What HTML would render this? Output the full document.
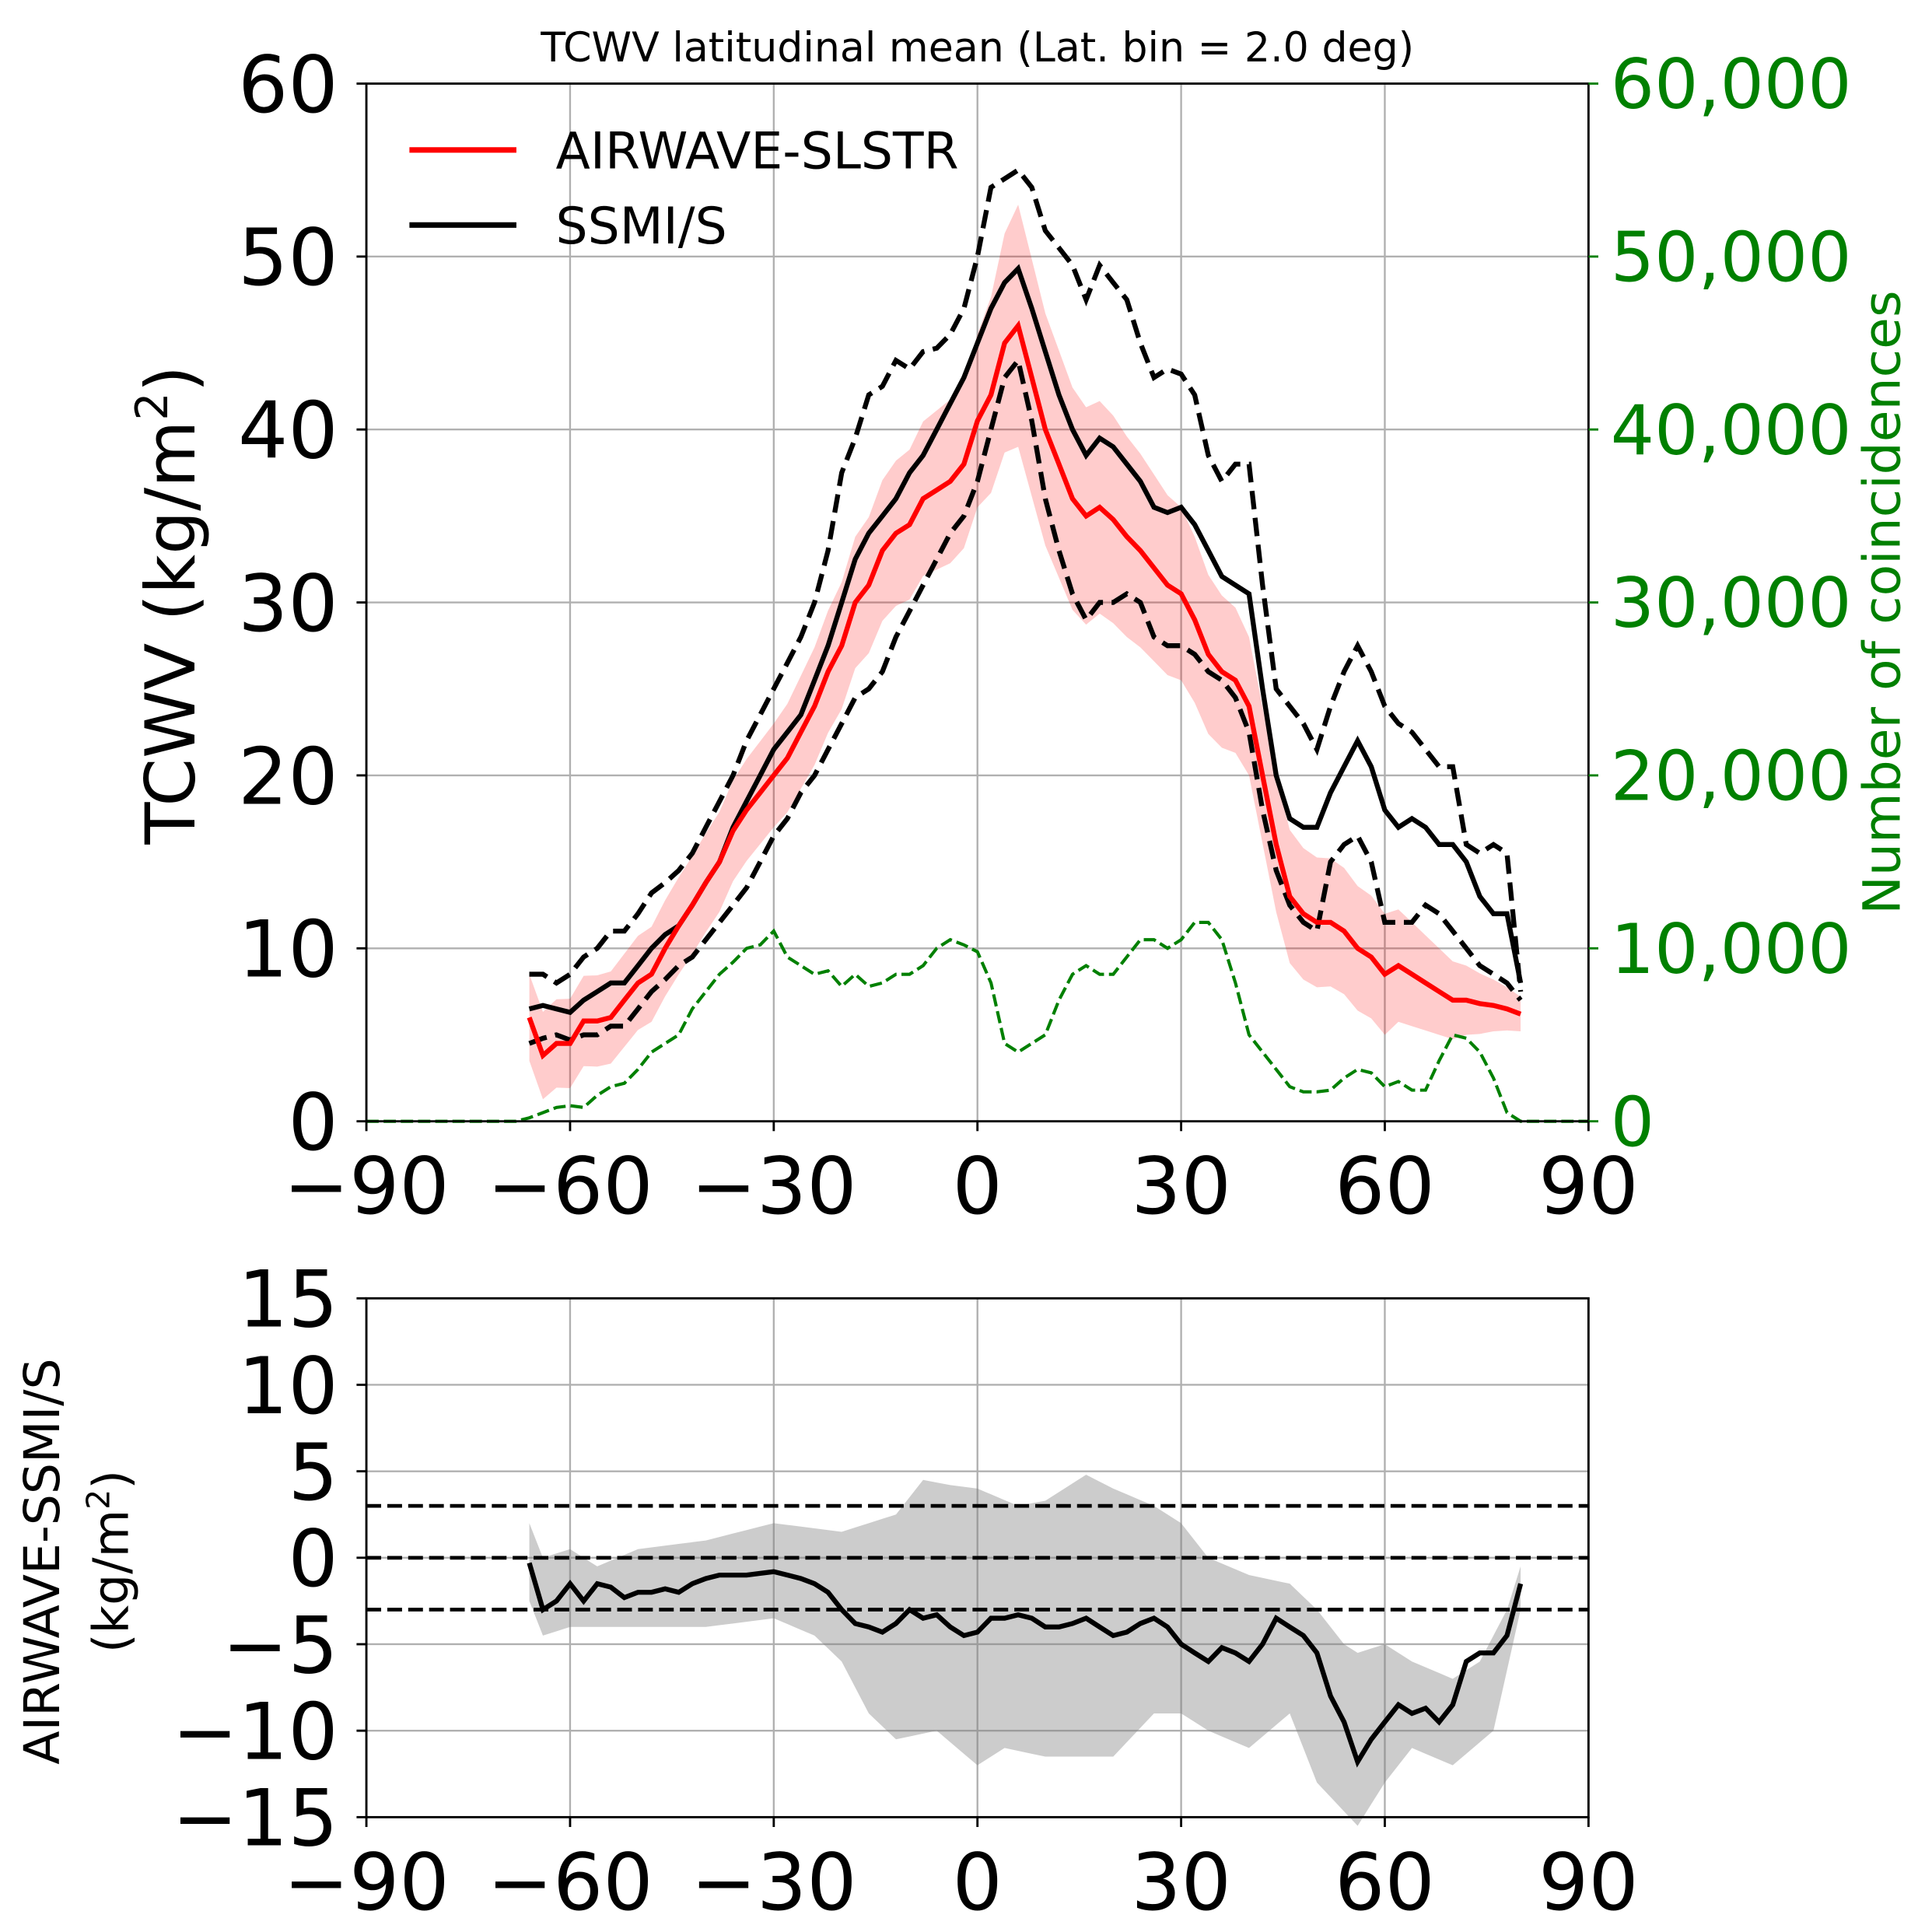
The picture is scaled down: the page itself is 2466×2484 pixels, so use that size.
<!DOCTYPE html>
<html><head><meta charset="utf-8"><style>
html,body{margin:0;padding:0;background:#fff}
svg{display:block}
text{font-family:"DejaVu Sans","Liberation Sans",sans-serif}
</style></head><body>
<svg id="s" width="2466" height="2484" viewBox="0 0 1560 1571.4" preserveAspectRatio="none" xmlns="http://www.w3.org/2000/svg">
<rect width="1560" height="1572" fill="#fff"/>
<g id="g"></g>
<text x="795" y="50" font-size="33" text-anchor="middle">TCWV latitudinal mean (Lat. bin = 2.0 deg)</text>
<text transform="translate(158,492) rotate(-90)" font-size="56" text-anchor="middle">TCWV (kg/m<tspan font-size="36" dy="-22">2</tspan><tspan dy="22">)</tspan></text>
<text transform="translate(1545,490) rotate(-90)" font-size="42" fill="#008000" text-anchor="middle">Number of coincidences</text>
<text transform="translate(48,1270) rotate(-90)" font-size="40" text-anchor="middle">AIRWAVE-SSMI/S</text>
<text transform="translate(104,1270) rotate(-90)" font-size="40" text-anchor="middle">(kg/m<tspan font-size="26" dy="-15">2</tspan><tspan dy="15">)</tspan></text>
</svg>
<script>
const NS="http://www.w3.org/2000/svg",G=document.getElementById('g');
function el(t,a,txt){const e=document.createElementNS(NS,t);for(const k in a)e.setAttribute(k,a[k]);if(txt!==undefined)e.textContent=txt;G.appendChild(e);return e;}
const X=l=>298+(l+90)*994/180;
const Y1=v=>912-v*844/60;
const Y2=v=>1267-v*211/15;
const lats=[];for(let l=-66;l<=80;l+=2)lats.push(l);
function interp(kp,l){for(let i=0;i<kp.length-1;i++){if(l>=kp[i][0]&&l<=kp[i+1][0]){const t=(l-kp[i][0])/(kp[i+1][0]-kp[i][0]);return kp[i][1]+t*(kp[i+1][1]-kp[i][1]);}}return kp[kp.length-1][1];}
const red=[6,3.8,4.5,4.5,5.8,5.8,6,7,8,8.5,10,11.3,12.5,13.8,15,16.8,18,19,20,21,22.5,24,26,27.5,30,31,33,34,34.5,36,36.5,37,38,40.5,42,45,46,43,40,38,36,35,35.5,34.8,33.8,33,32,31,30.5,29,27,26,25.5,24,20,16,13,12,11.5,11.5,11,10,9.5,8.5,9,8.5,8,7.5,7,7,6.8,6.7,6.5,6.2];
const blk=[6.5,6.7,6.5,6.3,7,7.5,8,8,9,10,10.8,11.3,12.5,13.8,15,17,18.5,20,21.5,22.5,23.5,25.5,27.5,30,32.5,34,35,36,37.5,38.5,40,41.5,43,45,47,48.5,49.3,47,44.5,42,40,38.5,39.5,39,38,37,35.5,35.2,35.5,34.5,33,31.5,31,30.5,25,20,17.5,17,17,19,20.5,22,20.5,18,17,17.5,17,16,16,15,13,12,12,8];
const up=[8.5,8.5,8,8.5,9.5,10,11,11,12,13.2,13.8,14.5,15.5,17,18.5,20,22,23.5,25,26.5,28,30,33,37.5,39.5,42,42.5,44,43.5,44.5,44.7,45.5,47,50,54,54.5,55,54,51.5,50.5,49.5,47.5,49.5,48.5,47.5,45,43,43.5,43.2,42,38.5,37,38,38,31,25,24,23,21.5,24,26,27.5,26,24,23,22.5,21.5,20.5,20.5,16,15.5,16,15.5,7.5];
const lo=[4.5,4.8,5,4.7,5,5,5.5,5.5,6.5,7.5,8.2,9,9.5,10.5,11.5,12.5,13.5,15,16.5,17.5,19,20,21.5,23,24.5,25,26,28,29.5,31,32.5,34,35,37,40,43,44,40.5,36,33,30.5,29,30,30,30.5,30,28,27.5,27.5,27,26,25.5,24.5,22.5,18,14.5,12.5,11.5,11,15,16,16.5,15,11.5,11.5,11.5,12.5,12,11,10,9,8.5,8,7];
const hwk=[[-66,2.5],[-30,3],[0,5],[6,7],[20,6],[40,4],[60,3.5],[80,1]];
const gv=[0.2,0.5,0.8,0.9,0.8,1.5,2,2.2,3,4,4.5,5,6.5,7.5,8.5,9.2,10,10.2,11,9.5,9,8.5,8.7,7.8,8.5,7.8,8,8.5,8.5,9,10,10.5,10.2,9.8,8,4.5,4,4.5,5,7,8.5,9,8.5,8.5,9.5,10.5,10.5,10,10.5,11.5,11.5,10.5,8,5,4,3,2,1.7,1.7,1.8,2.5,3,2.8,2,2.3,1.8,1.8,3.5,5,4.8,4,2.5,0.5,0];
const dm=[-0.3,-3,-2.5,-1.5,-2.5,-1.5,-1.7,-2.3,-2,-2,-1.8,-2,-1.5,-1.2,-1,-1,-1,-0.9,-0.8,-1,-1.2,-1.5,-2,-3,-3.8,-4,-4.3,-3.8,-3,-3.5,-3.3,-4,-4.5,-4.3,-3.5,-3.5,-3.3,-3.5,-4,-4,-3.8,-3.5,-4,-4.5,-4.3,-3.8,-3.5,-4,-5,-5.5,-6,-5.2,-5.5,-6,-5,-3.5,-4,-4.5,-5.5,-8,-9.5,-11.8,-10.5,-9.5,-8.5,-9,-8.7,-9.5,-8.5,-6,-5.5,-5.5,-4.5,-1.5];
const gu=[[-66,2],[-64,0],[-60,0.5],[-56,-0.5],[-50,0.5],[-40,1],[-30,2],[-20,1.5],[-12,2.5],[-8,4.5],[-4,4.2],[0,4],[6,3],[10,3.3],[16,4.8],[20,4],[26,3],[30,2],[34,0],[40,-1],[46,-1.5],[50,-3],[54,-5],[56,-5.5],[60,-5],[64,-6],[70,-7],[74,-6],[78,-3],[80,-0.5]];
const gl=[[-66,-2.5],[-64,-4.5],[-60,-4],[-50,-4],[-40,-4],[-30,-3.5],[-24,-4.5],[-20,-6],[-16,-9],[-12,-10.5],[-6,-10],[0,-12],[4,-11],[10,-11.5],[20,-11.5],[26,-9],[30,-9],[34,-10],[40,-11],[46,-9],[50,-13],[56,-15.5],[60,-13],[64,-11],[70,-12],[76,-10],[80,-3]];
const pts=(arr,Y)=>lats.map((l,i)=>X(l).toFixed(1)+','+Y(arr[i]).toFixed(1)).join(' ');
const grid='#b0b0b0';
function axes(y0,y1,ticks,Y){
  for(let l=-90;l<=90;l+=30){el('line',{x1:X(l),x2:X(l),y1:y0,y2:y1,stroke:grid,'stroke-width':1.5});}
  ticks.forEach(v=>el('line',{x1:298,x2:1292,y1:Y(v),y2:Y(v),stroke:grid,'stroke-width':1.5}));
}
axes(68,912,[0,10,20,30,40,50,60],Y1);
const hw=lats.map(l=>interp(hwk,l));
el('polygon',{points:lats.map((l,i)=>X(l)+','+Y1(red[i]+hw[i])).join(' ')+' '+lats.slice().reverse().map((l,j)=>{const i=lats.length-1-j;return X(l)+','+Y1(red[i]-hw[i]);}).join(' '),fill:'#ff0000','fill-opacity':0.2});
const gl2=[];for(let l=-90;l<=90;l+=2){let v=0;if(l>=-66&&l<=80)v=gv[(l+66)/2];gl2.push(X(l)+','+Y1(v));}
el('polyline',{points:gl2.join(' '),fill:'none',stroke:'#008000','stroke-width':2.6,'stroke-dasharray':'10,4'});
el('polyline',{points:pts(up,Y1),fill:'none',stroke:'#000','stroke-width':4,'stroke-dasharray':'15,7'});
el('polyline',{points:pts(lo,Y1),fill:'none',stroke:'#000','stroke-width':4,'stroke-dasharray':'15,7'});
el('polyline',{points:pts(blk,Y1),fill:'none',stroke:'#000','stroke-width':4});
el('polyline',{points:pts(red,Y1),fill:'none',stroke:'#ff0000','stroke-width':4});
el('rect',{x:298,y:68,width:994,height:844,fill:'none',stroke:'#000','stroke-width':1.8});
el('line',{x1:333,x2:420,y1:122,y2:122,stroke:'#f00','stroke-width':4.5});
el('text',{x:452,y:137,'font-size':41},'AIRWAVE-SLSTR');
el('line',{x1:333,x2:420,y1:183,y2:183,stroke:'#000','stroke-width':4.5});
el('text',{x:452,y:198,'font-size':41},'SSMI/S');
[0,10,20,30,40,50,60].forEach(v=>{
  el('line',{x1:290,x2:298,y1:Y1(v),y2:Y1(v),stroke:'#000','stroke-width':1.8});
  el('text',{x:275,y:Y1(v)+23,'font-size':64,'text-anchor':'end'},String(v));
  el('line',{x1:1292,x2:1300,y1:Y1(v),y2:Y1(v),stroke:'#008000','stroke-width':1.8});
  el('text',{x:1310,y:Y1(v)+20,'font-size':56,fill:'#008000'},(v*1000).toLocaleString('en-US'));
});
function xt(yb){for(let l=-90;l<=90;l+=30){el('line',{x1:X(l),x2:X(l),y1:yb,y2:yb+8,stroke:'#000','stroke-width':1.8});el('text',{x:X(l),y:yb+75,'font-size':64,'text-anchor':'middle'},(l<0?'\u2212':'')+Math.abs(l));}}
xt(912);
axes(1056,1478,[-15,-10,-5,0,5,10,15],Y2);
el('polygon',{points:lats.map(l=>X(l)+','+Y2(interp(gu,l))).join(' ')+' '+lats.slice().reverse().map(l=>X(l)+','+Y2(interp(gl,l))).join(' '),fill:'#808080','fill-opacity':0.4});
[3,0,-3].forEach(v=>el('line',{x1:298,x2:1292,y1:Y2(v),y2:Y2(v),stroke:'#000','stroke-width':3,'stroke-dasharray':'12,5'}));
el('polyline',{points:pts(dm,Y2),fill:'none',stroke:'#000','stroke-width':4});
el('rect',{x:298,y:1056,width:994,height:422,fill:'none',stroke:'#000','stroke-width':1.8});
[-15,-10,-5,0,5,10,15].forEach(v=>{
  el('line',{x1:290,x2:298,y1:Y2(v),y2:Y2(v),stroke:'#000','stroke-width':1.8});
  el('text',{x:275,y:Y2(v)+23,'font-size':64,'text-anchor':'end'},(v<0?'\u2212':'')+Math.abs(v));
});
xt(1478);
</script>
</body></html>
